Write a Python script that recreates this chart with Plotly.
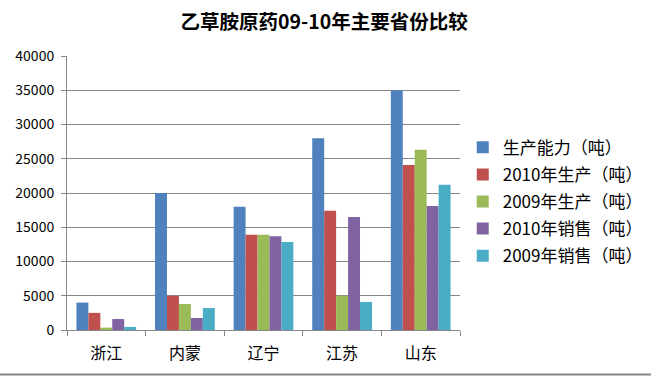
import plotly.graph_objects as go

categories = ["浙江", "内蒙", "辽宁", "江苏", "山东"]
series_names = ["生产能力（吨）", "2010年生产（吨）", "2009年生产（吨）", "2010年销售（吨）", "2009年销售（吨）"]
capacity = [4000, 20000, 18000, 28000, 35000]
prod_2010 = [2500, 5000, 13900, 17400, 24100]
prod_2009 = [350, 3800, 13900, 5000, 26300]
sales_2010 = [1600, 1750, 13700, 16500, 18100]
sales_2009 = [450, 3200, 12850, 4100, 21200]
colors = ["#4F81BD", "#C0504D", "#9BBB59", "#8064A2", "#4BACC6"]
y_ticks = [0, 5000, 10000, 15000, 20000, 25000, 30000, 35000, 40000]

font_family = "Noto Sans CJK SC, Noto Sans, sans-serif"

fig = go.Figure()
for i, (name, vals, c) in enumerate(zip(series_names, [capacity, prod_2010, prod_2009, sales_2010, sales_2009], colors)):
    fig.add_trace(go.Bar(x=categories, y=vals, name=name, legendgroup=str(i),
                         marker=dict(color=c, line=dict(width=0))))

fig.update_layout(
    width=651, height=376,
    barmode="group", bargap=0.24, bargroupgap=0,
    plot_bgcolor="white", paper_bgcolor="white",
    margin=dict(l=67, r=191, t=56, b=46, autoexpand=False),
    font=dict(family=font_family, size=13, color="#000000"),
    title=dict(text="<b>乙草胺原药09-10年主要省份比较</b>", x=0.498, xanchor="center", y=0.941, yanchor="middle",
               font=dict(family=font_family, size=19.5, color="#000000")),
    legend=dict(x=1.007, y=0.468, xanchor="left", yanchor="middle", font=dict(size=17),
                itemwidth=30, tracegroupgap=2, traceorder="grouped", bgcolor="rgba(0,0,0,0)"),
    xaxis=dict(showline=True, linecolor="#868686", linewidth=1, ticks="outside", tickcolor="#868686",
               ticklen=5, tickson="boundaries", showgrid=False, tickfont=dict(size=16),
               ticklabelstandoff=9),
    yaxis=dict(range=[0, 40000], tickvals=y_ticks, ticktext=[str(v) for v in y_ticks], showline=True,
               linecolor="#868686", linewidth=1, ticks="outside", tickcolor="#868686", ticklen=5,
               showgrid=True, gridcolor="#868686", gridwidth=1, zeroline=False, tickfont=dict(size=14),
               ticklabelstandoff=4),
    shapes=[dict(type="line", xref="paper", yref="paper", x0=-0.2, x1=1.5, y0=-0.1624, y1=-0.1624,
                 line=dict(color="#868686", width=2))],
)

fig.write_html("out.html", config={"displayModeBar": False},
               post_script="document.body.style.margin='0';")
